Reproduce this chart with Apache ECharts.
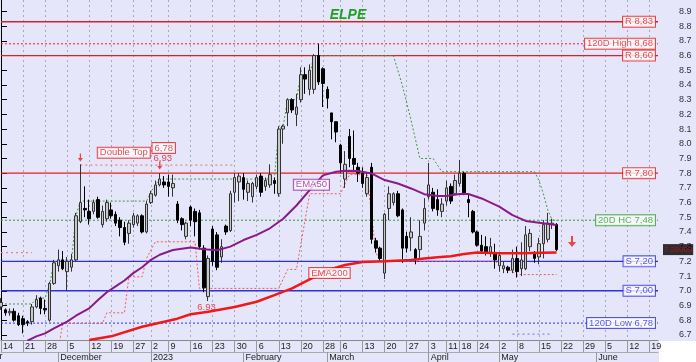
<!DOCTYPE html>
<html><head><meta charset="utf-8">
<script src="https://cdn.jsdelivr.net/npm/echarts@6/dist/echarts.min.js"></script>
<style>html,body{margin:0;padding:0;background:#e6e6fa}#c{width:696px;height:362px}</style>
</head><body><div id="c"></div>
<script>
const dates = ['2022-11-14','2022-11-15','2022-11-16','2022-11-17','2022-11-18','2022-11-21','2022-11-22','2022-11-23','2022-11-24','2022-11-25',
'2022-11-28','2022-11-29','2022-11-30','2022-12-01','2022-12-02','2022-12-05','2022-12-06','2022-12-07','2022-12-08','2022-12-09',
'2022-12-12','2022-12-13','2022-12-14','2022-12-15','2022-12-16','2022-12-19','2022-12-20','2022-12-21','2022-12-22','2022-12-23',
'2022-12-27','2022-12-28','2022-12-29','2022-12-30','2023-01-02','2023-01-03','2023-01-04','2023-01-05','2023-01-09','2023-01-10',
'2023-01-11','2023-01-12','2023-01-13','2023-01-16','2023-01-17','2023-01-18','2023-01-19','2023-01-20','2023-01-23','2023-01-24',
'2023-01-25','2023-01-26','2023-01-27','2023-01-30','2023-01-31','2023-02-01','2023-02-02','2023-02-03','2023-02-06','2023-02-07',
'2023-02-08','2023-02-09','2023-02-10','2023-02-13','2023-02-14','2023-02-15','2023-02-16','2023-02-17','2023-02-20','2023-02-21',
'2023-02-22','2023-02-23','2023-02-24','2023-02-28','2023-03-01','2023-03-02','2023-03-03','2023-03-06','2023-03-07','2023-03-08',
'2023-03-09','2023-03-10','2023-03-13','2023-03-14','2023-03-15','2023-03-16','2023-03-17','2023-03-20','2023-03-21','2023-03-22',
'2023-03-23','2023-03-24','2023-03-27','2023-03-28','2023-03-29','2023-03-30','2023-03-31','2023-04-03','2023-04-04','2023-04-05',
'2023-04-06','2023-04-11','2023-04-12','2023-04-13','2023-04-18','2023-04-19','2023-04-20','2023-04-21','2023-04-24','2023-04-25',
'2023-04-26','2023-04-27','2023-04-28','2023-05-02','2023-05-03','2023-05-04','2023-05-05','2023-05-08','2023-05-09','2023-05-10',
'2023-05-11','2023-05-12','2023-05-15','2023-05-16','2023-05-17','2023-05-18','2023-05-19','2023-05-22','2023-05-23','2023-05-24',
'2023-05-25','2023-05-26','2023-05-29','2023-05-30','2023-05-31','2023-06-01','2023-06-02','2023-06-05','2023-06-06','2023-06-07',
'2023-06-08','2023-06-09','2023-06-12','2023-06-13','2023-06-14','2023-06-15','2023-06-16','2023-06-19','2023-06-20','2023-06-21'];

const opens = [6.89,6.87,6.85,6.86,6.83,6.81,6.79,6.79,6.89,6.95, 6.88,6.80,7.05,7.17,7.21,7.13,7.16,7.21,7.47,7.56,
7.54,7.54,7.62,7.45,7.49,7.55,7.52,7.48,7.43,7.39, 7.45,7.46,7.51,7.40,7.60,7.65,7.72,7.74,7.74,7.70,
7.59,7.49,7.37,7.57,7.54,7.53,7.29,6.96,7.42,7.38, 7.23,7.44,7.41,7.67,7.74,7.77,7.67,7.64,7.71,7.78,
7.71,7.72,7.75,7.66,8.10,8.21,8.30,8.20,8.30,8.47, 8.37,8.37,8.60,8.51,8.37,8.21,8.15,7.99,7.76,8.05,
7.90,7.84,7.80,7.66,7.84,7.34,7.29,7.12,7.56,7.60, 7.66,7.55,7.37,7.36,7.28,7.28,7.46,7.64,7.67,7.62,
7.54,7.61,7.71,7.66,7.73,7.80,7.62,7.54,7.40,7.31, 7.30,7.26,7.25,7.17,7.15,7.16,7.14,7.22,7.15,7.15,
7.30,7.25,7.23,7.32,7.35,7.45,7.45];
const closes = [6.92,6.85,6.86,6.80,6.77,6.77,6.78,6.89,6.94,6.88, 6.87,7.05,7.19,7.21,7.15,7.20,7.21,7.51,7.60,7.55,
7.49,7.60,7.50,7.54,7.60,7.51,7.46,7.43,7.33,7.46, 7.51,7.51,7.40,7.59,7.66,7.72,7.76,7.72,7.71,7.73,
7.48,7.45,7.46,7.48,7.47,7.30,7.02,7.22,7.20,7.16, 7.30,7.40,7.66,7.77,7.78,7.69,7.73,7.73,7.77,7.67,
7.75,7.79,7.73,8.10,8.12,8.30,8.23,8.25,8.47,8.44, 8.50,8.60,8.42,8.41,8.31,8.15,8.08,7.87,7.86,7.90,
7.86,7.80,7.73,7.77,7.35,7.29,7.22,7.52,7.66,7.66, 7.51,7.29,7.29,7.40,7.22,7.37,7.56,7.72,7.56,7.55,
7.59,7.70,7.61,7.75,7.80,7.66,7.60,7.40,7.31,7.27, 7.26,7.30,7.21,7.24,7.17,7.14,7.22,7.13,7.21,7.38,
7.39,7.22,7.32,7.45,7.46,7.46,7.28];
const lows = [6.87,6.83,6.83,6.79,6.76,6.71,6.76,6.77,6.88,6.84, 6.84,6.79,7.04,7.13,7.14,7.00,7.13,7.20,7.46,7.50,
7.45,7.52,7.49,7.43,7.47,7.49,7.44,7.37,7.31,7.32, 7.43,7.44,7.39,7.39,7.59,7.64,7.71,7.70,7.64,7.64,
7.46,7.41,7.35,7.44,7.37,7.28,6.99,6.93,7.17,7.14, 7.19,7.38,7.40,7.60,7.61,7.62,7.61,7.60,7.69,7.64,
7.68,7.70,7.66,7.64,8.00,8.12,8.21,8.12,8.28,8.34, 8.33,8.34,8.40,8.25,8.24,8.03,8.01,7.80,7.70,7.84,
7.82,7.74,7.70,7.64,7.32,7.26,7.20,7.08,7.48,7.58, 7.50,7.19,7.26,7.27,7.18,7.22,7.41,7.62,7.54,7.51,
7.50,7.58,7.59,7.65,7.71,7.65,7.50,7.39,7.30,7.25, 7.24,7.23,7.15,7.13,7.12,7.12,7.12,7.09,7.10,7.14,
7.27,7.19,7.18,7.22,7.33,7.42,7.27];
const highs = [6.95,6.88,6.88,6.88,6.85,6.83,6.80,6.91,6.97,6.96, 6.94,7.06,7.21,7.28,7.27,7.23,7.25,7.53,7.86,7.71,
7.62,7.62,7.64,7.58,7.62,7.60,7.54,7.50,7.47,7.48, 7.53,7.52,7.52,7.61,7.68,7.75,7.80,7.78,7.79,7.79,
7.61,7.50,7.47,7.58,7.56,7.55,7.31,7.24,7.44,7.40, 7.35,7.45,7.68,7.80,7.80,7.80,7.75,7.74,7.79,7.80,
7.77,7.86,7.77,8.12,8.13,8.31,8.31,8.34,8.52,8.52, 8.54,8.61,8.68,8.52,8.39,8.21,8.15,8.00,7.95,8.10,
8.09,7.87,7.84,7.80,7.87,7.36,7.30,7.53,7.71,7.67, 7.68,7.56,7.40,7.50,7.29,7.48,7.63,7.87,7.70,7.69,
7.63,7.75,7.73,7.79,7.89,7.81,7.66,7.55,7.41,7.38, 7.37,7.36,7.32,7.25,7.20,7.17,7.28,7.30,7.33,7.44,
7.42,7.27,7.36,7.48,7.53,7.49,7.46];

const ema50 = [[6,6.66],[8,6.69],[10,6.71],[12,6.744],[15,6.79],[17,6.83],[20,6.88],[22,6.937],[24,6.99],[26,7.03],[28,7.07],[30,7.12],
[32,7.16],[34,7.21],[36,7.245],[39,7.277],[43,7.295],[46,7.283],[49,7.275],[52,7.30],[55,7.345],[58,7.38],[61,7.425],[64,7.49],
[67,7.58],[70,7.685],[73,7.785],[76,7.81],[78,7.816],[81,7.814],[84,7.798],[87,7.753],[90,7.73],[93,7.696],[96,7.657],[99,7.645],
[101,7.644],[104,7.658],[106,7.658],[109,7.628],[113,7.572],[116,7.515],[119,7.475],[122,7.463],[126,7.447]];
const ema200 = [[20,6.665],[25,6.69],[32,6.755],[40,6.81],[43,6.84],[47,6.857],[53,6.89],[58,6.925],[62,6.97],[66,7.016],[70,7.077],
[74,7.14],[78,7.175],[82,7.195],[87,7.20],[93,7.209],[96,7.22],[99,7.228],[102,7.235],[105,7.25],[108,7.26],[113,7.255],[118,7.255],[123,7.259],[126,7.26]];
const hc20 = [[0,6.91],[7,6.91],[8,6.95],[10,6.95],[11,7.04],[12,7.19],[13,7.21],[16,7.21],[17,7.51],[18,7.61],[33,7.61],[34,7.67],
[35,7.72],[36,7.76],[62,7.76],[63,8.10],[64,8.12],[65,8.30],[67,8.30],[68,8.47],[70,8.47],[71,8.60],[89,8.60],[91,8.40],[93,8.16],
[95,7.90],[98,7.90],[100,7.81],[121,7.81],[122,7.75],[123,7.66],[124,7.55],[125,7.48],[126,7.48]];
const low20 = [[13,6.60],[14,6.778],[23,6.778],[24,6.85],[28,6.85],[29,7.095],[32,7.095],[33,7.22],[35,7.333],[44,7.333],[45,7.016],
[63,7.016],[65,7.145],[67,7.145],[70,7.66],[77,7.66],[79,7.79],[83,7.79],[85,7.26],[86,7.20],[112,7.20],[116,7.13],[117,7.11],[126,7.11]];
const earlyRes = [[0,7.259],[7,7.259]];
const doubleTop = [[18,7.855],[53,7.855]];
const lowMark = [[116,6.705],[124.5,6.705]];

const levelValues = [8.83, 8.68, 8.60, 7.80, 7.48, 7.20, 7.00, 6.78];
const levelTexts = ['R 8,83','120D High 8,68','R 8,60','R 7,80','20D HC 7,48','S 7,20','S 7,00','120D Low 6,78'];
const levelKinds = ['R','Rd','R','R','Gd','S','S','Sd'];
const yTicks = [6.7,6.8,6.9,7.0,7.1,7.2,7.3,7.4,7.5,7.6,7.7,7.8,7.9,8.0,8.1,8.2,8.3,8.4,8.5,8.6,8.7,8.8,8.9];
const lastPrice = 7.28;
const monthNames = ['2023','February','March','April','May','June','July','August','September','October','November','December'];

const FONT = 'Liberation Sans, Arial, sans-serif';
const RED = '#e41e24', BLUE = '#2f2fe6', GREEN = '#2e9e2e';
const kindStyle = {
  R:{color:RED,type:'solid',w:1.3}, Rd:{color:RED,type:[2,2],w:1},
  S:{color:BLUE,type:'solid',w:1.3}, Sd:{color:BLUE,type:[2,2],w:1},
  Gd:{color:GREEN,type:[2,2],w:1}
};

const N = dates.length;
const weekStart = dates.map((d,i)=> i===0 || new Date(d).getUTCDay() < new Date(dates[i-1]).getUTCDay());
const monthStart = dates.map((d,i)=> i>0 && d.slice(5,7) !== dates[i-1].slice(5,7));
const candles = opens.map((o,i)=>[o, closes[i], lows[i], highs[i]]);

const series = [];
series.push({type:'candlestick', xAxisIndex:0, yAxisIndex:0, data:candles, barWidth:3,
  itemStyle:{color:'#c8c8c8', color0:'#000', borderColor:'#333', borderColor0:'#000', borderWidth:1}, z:5});

function lineS(data, color, width, type, z){
  return {type:'line', xAxisIndex:1, yAxisIndex:0, data, symbol:'none', silent:true,
    lineStyle:{color, width, type}, z: z||3, animation:false};
}
levelValues.forEach((v,k)=>{
  const st = kindStyle[levelKinds[k]];
  series.push(lineS([[0,v],[N-1,v]], st.color, st.w, st.type, 2));
});
series.push(lineS(earlyRes, '#ee6a6a', 1, [2,3], 3));
series.push(lineS(doubleTop, '#ee6a6a', 1, [2,3], 3));
series.push(lineS(low20, '#ee5a5a', 1, [2,2], 3));
series.push(lineS(hc20, '#3a9e3a', 1, [2,2], 3));
series.push(lineS(lowMark, '#7070e0', 1, [2,3], 3));
series.push(lineS(ema200, '#f01818', 2.5, 'solid', 6));
series.push(lineS(ema50, '#8a1a8a', 2, 'solid', 6));

function boxLabel(text, color, pos){
  return {show:true, formatter:text, position:pos||'inside', color, fontSize:9.5, fontFamily:FONT,
    backgroundColor:'#fff', borderColor:color, borderWidth:1, padding:[1,2,0,2], lineHeight:9};
}
const lvlData = levelValues.map((v,k)=>({value:[N-1, v],
  label: boxLabel(levelTexts[k], kindStyle[levelKinds[k]].color, 'left')}));
series.push({type:'scatter', xAxisIndex:1, yAxisIndex:0, symbolSize:0, data:lvlData, z:10, silent:true,
  label:{distance:3}});

const annot = [
  {value:[27.85,7.939], label: boxLabel('Double Top', RED)},
  {value:[36.9,7.971], label: boxLabel('6,78', RED)},
  {value:[36.7,7.903], label:{show:true, formatter:'6,93', color:RED, fontSize:9.5, fontFamily:FONT}},
  {value:[46.6,6.889], label:{show:true, formatter:'6.93', color:RED, fontSize:9.5, fontFamily:FONT}},
  {value:[70.4,7.722], label: boxLabel('EMA50', '#9a2a9a')},
  {value:[74.5,7.12], label: boxLabel('EMA200', RED)}
];
series.push({type:'scatter', xAxisIndex:1, yAxisIndex:0, symbolSize:0, data:annot, z:12, silent:true});

const arrowPath = 'path://M3,0 L5,0 L5,6 L8,6 L4,11 L0,6 L3,6 Z';
series.push({type:'scatter', xAxisIndex:1, yAxisIndex:0, symbol:arrowPath, silent:true, z:12,
  itemStyle:{color:'#ee1c1c'},
  data:[{value:[18,7.906], symbolSize:[5,8]},{value:[36,7.852], symbolSize:[5,8]},{value:[129.5,7.335], symbolSize:[8,11]}]});

series.push({type:'scatter', xAxisIndex:1, yAxisIndex:0, symbolSize:0, silent:true, z:12,
  data:[{value:[N-1,lastPrice], label:{show:true, position:'right', distance:5, formatter: lastPrice.toFixed(5),
    color:'#d01010', backgroundColor:'#000', fontSize:7.8, fontFamily:FONT, padding:[2,1,1,1]}}]});

const chart = echarts.init(document.getElementById('c'), null, {renderer:'canvas'});
chart.setOption({
  animation:false,
  backgroundColor:'#e6e6fa',
  title:{text:'ELPE', left:'center', top:3, textStyle:{color:'#22a022', fontSize:14, fontWeight:'bold', fontStyle:'italic', fontFamily:FONT}},
  grid:{left:0, right:38, top:0, bottom:22, show:true, backgroundColor:'#e6e6fa', borderWidth:0},
  graphic:[
    {type:'rect', right:0, bottom:0, shape:{width:37, height:21}, style:{fill:'#ffffff'}, z:0},
    {type:'text', left:-39, bottom:1, style:{text:'November', fill:'#222', font:'9px Liberation Sans, Arial, sans-serif'}, z:0}
  ],
  xAxis:[
    {type:'category', data:dates, boundaryGap:false, position:'bottom',
      axisLine:{lineStyle:{color:'#888'}},
      axisTick:{show:true, interval:(i)=>weekStart[i], length:12, lineStyle:{color:'#999'}},
      axisLabel:{interval:(i)=>weekStart[i], formatter:(v)=>String(parseInt(v.slice(8),10)), align:'left', padding:[0,0,0,2],
        margin:2, fontSize:9, color:'#222', fontFamily:FONT},
      splitLine:{show:true, interval:(i)=>weekStart[i], lineStyle:{color:'#a8a8bc', type:[2,3], width:1}}},
    {type:'value', min:0, max:N-1, show:false},
    {type:'category', data:dates, boundaryGap:false, position:'bottom', offset:12,
      axisLine:{show:true, lineStyle:{color:'#aaa'}},
      axisTick:{show:true, interval:(i)=>monthStart[i], length:10, lineStyle:{color:'#999'}},
      axisLabel:{interval:(i)=>monthStart[i], formatter:(v)=>monthNames[parseInt(v.slice(5,7),10)-1], align:'left', padding:[0,0,0,2],
        margin:1, fontSize:9, color:'#222', fontFamily:FONT},
      splitLine:{show:false}}
  ],
  yAxis:[{type:'value', position:'right', min:6.665, max:8.978, scale:true,
    axisLine:{show:true, lineStyle:{color:'#000'}},
    axisTick:{show:true, length:6, customValues:yTicks, lineStyle:{color:'#000'}},
    axisLabel:{customValues:yTicks, formatter:(v)=>v.toFixed(1), margin:21, fontSize:9, color:'#333', fontFamily:FONT},
    splitLine:{show:false}}],
  series
});
</script></body></html>
